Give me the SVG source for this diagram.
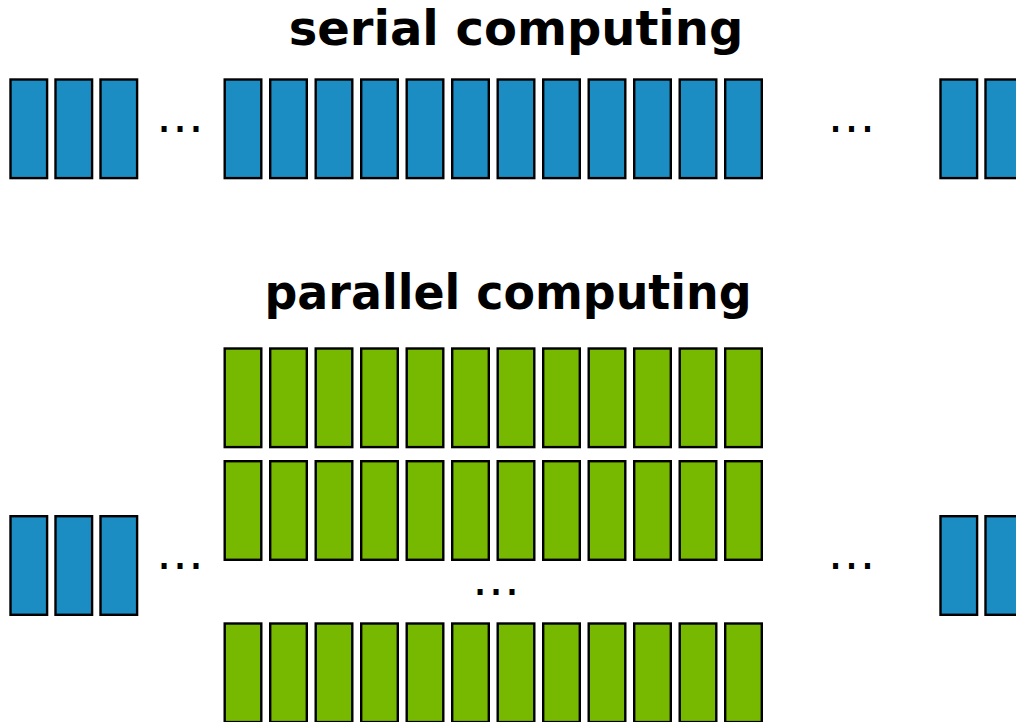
<svg xmlns="http://www.w3.org/2000/svg" xmlns:xlink="http://www.w3.org/1999/xlink" width="1016" height="722" viewBox="0 0 1016 722">
  <style>
    .title { font-family: "DejaVu Sans", "Liberation Sans", sans-serif; font-weight: bold; font-size: 48px; fill: #000; text-anchor: middle; }
    .dots { font-family: "DejaVu Sans", "Liberation Sans", sans-serif; font-size: 48px; fill: #000; text-anchor: middle; }
    .serial { fill: #1b8dc3; stroke: #000; stroke-width: 2.4; }
    .par { fill: #76b900; stroke: #000; stroke-width: 2.4; }
  </style>
  <defs>
    <!-- one task block: 39 x 101 outer, drawn from its outer top-left corner -->
    <rect id="blk" x="1.2" y="1.2" width="36.6" height="98.6"/>
    <!-- a run of twelve blocks -->
    <g id="run12">
      <use xlink:href="#blk" x="0"/>
      <use xlink:href="#blk" x="45.5"/>
      <use xlink:href="#blk" x="91"/>
      <use xlink:href="#blk" x="136.5"/>
      <use xlink:href="#blk" x="182"/>
      <use xlink:href="#blk" x="227.5"/>
      <use xlink:href="#blk" x="273"/>
      <use xlink:href="#blk" x="318.5"/>
      <use xlink:href="#blk" x="364"/>
      <use xlink:href="#blk" x="409.5"/>
      <use xlink:href="#blk" x="455"/>
      <use xlink:href="#blk" x="500.5"/>
    </g>
  </defs>
  <rect width="1016" height="722" fill="#fff"/>

  <!-- serial computing -->
  <g id="serial-title"><text class="title" x="516" y="45">serial computing</text></g>
  <g id="serial-head" class="serial">
    <use xlink:href="#blk" x="9.3" y="78.3"/>
    <use xlink:href="#blk" x="54.3" y="78.3"/>
    <use xlink:href="#blk" x="99.3" y="78.3"/>
  </g>
  <g id="serial-dots-left"><text class="dots" x="180" y="132">…</text></g>
  <g id="serial-body" class="serial">
    <use xlink:href="#run12" x="223.5" y="78.3"/>
  </g>
  <g id="serial-dots-right"><text class="dots" x="851.5" y="132">…</text></g>
  <g id="serial-tail" class="serial">
    <use xlink:href="#blk" x="939.3" y="78.3"/>
    <use xlink:href="#blk" x="984.3" y="78.3"/>
  </g>

  <!-- parallel computing -->
  <g id="parallel-title"><text class="title" x="508" y="309" textLength="487" lengthAdjust="spacingAndGlyphs">parallel computing</text></g>
  <g id="parallel-head" class="serial">
    <use xlink:href="#blk" x="9.3" y="515"/>
    <use xlink:href="#blk" x="54.3" y="515"/>
    <use xlink:href="#blk" x="99.3" y="515"/>
  </g>
  <g id="parallel-dots-left"><text class="dots" x="180" y="569">…</text></g>
  <g id="lane-1" class="par"><use xlink:href="#run12" x="223.5" y="347.3"/></g>
  <g id="lane-2" class="par"><use xlink:href="#run12" x="223.5" y="460"/></g>
  <g id="lane-dots"><text class="dots" x="496" y="594.5">…</text></g>
  <g id="lane-n" class="par"><use xlink:href="#run12" x="223.5" y="622.3"/></g>
  <g id="parallel-dots-right"><text class="dots" x="851.5" y="569">…</text></g>
  <g id="parallel-tail" class="serial">
    <use xlink:href="#blk" x="939.3" y="515"/>
    <use xlink:href="#blk" x="984.3" y="515"/>
  </g>

  <!-- no connectors in this figure -->
  <g id="connectors"/>
</svg>
